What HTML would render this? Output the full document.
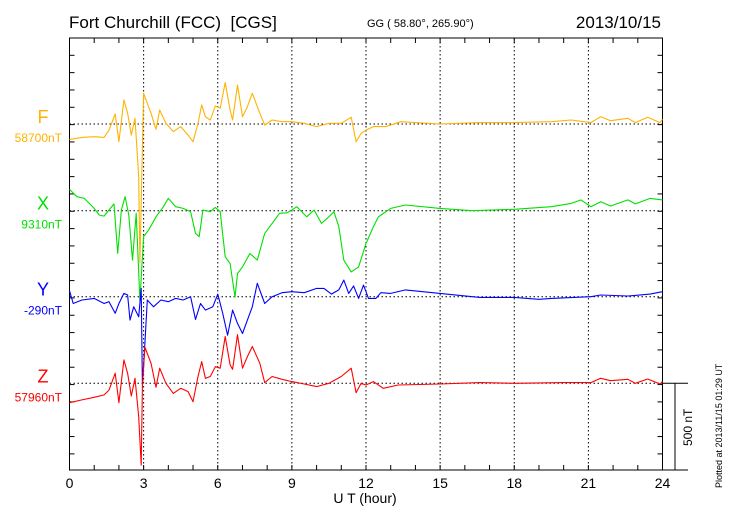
<!DOCTYPE html>
<html><head><meta charset="utf-8"><style>
html,body{margin:0;padding:0;background:#fff;}
svg{display:block;font-family:"Liberation Sans",sans-serif;}
</style></head><body>
<svg id="chart" width="730" height="520" viewBox="0 0 730 520" xmlns="http://www.w3.org/2000/svg">
<text x="69" y="28" font-size="17">Fort Churchill (FCC)&#160; [CGS]</text>
<text x="367" y="27" font-size="11">GG ( 58.80°, 265.90°)</text>
<text x="661" y="28" font-size="17" text-anchor="end">2013/10/15</text>
<text x="365" y="503" font-size="14" text-anchor="middle">U T (hour)</text>
<text transform="translate(722,488) rotate(-90)" font-size="9">Plotted at 2013/11/15 01:29 UT</text>
<text transform="translate(692,446) rotate(-90)" font-size="12">500 nT</text>
<g id="grid"></g><g id="axes"></g><g id="series"></g><g id="labels"></g>
</svg>
<script>
const hoursF=[0,0.5,1,1.4,1.6,1.85,2,2.2,2.35,2.5,2.65,2.8,2.85,3,3.3,3.5,3.65,3.9,4.2,4.5,4.8,5,5.2,5.35,5.5,5.7,5.9,6.1,6.3,6.5,6.6,6.8,7,7.2,7.4,7.7,7.9,8.2,8.6,9,9.5,10,10.5,11,11.4,11.6,11.8,12,12.3,12.8,13.4,15,16.6,18,19.5,20.3,21.1,21.5,21.9,22.6,22.9,23.4,23.9,24];
const valuesF=[-89,-77,-73,-77,-35,58,-102,139,62,-64,33,-305,-800,177,62,-31,81,4,-44,-15,-64,-102,4,110,42,23,104,91,239,81,23,225,42,100,177,62,-6,23,13,13,4,-15,4,4,39,-102,-54,-35,-15,-15,13,0,8,8,13,23,8,42,19,33,8,39,8,27];
const hoursX=[0,0.3,0.6,1,1.2,1.4,1.6,1.8,1.95,2.1,2.25,2.4,2.55,2.7,2.85,3,3.2,3.5,3.8,4,4.3,4.6,4.9,5.1,5.25,5.4,5.7,5.9,6.1,6.3,6.5,6.7,6.8,7,7.3,7.6,7.9,8.2,8.5,8.8,9,9.2,9.6,9.9,10.2,10.5,10.7,10.9,11.1,11.4,11.7,12,12.3,12.5,13,13.6,15,16.3,18,19.5,20.3,20.7,21.1,21.5,21.9,22.6,22.9,23.5,24];
const valuesX=[123,81,71,13,-25,-31,4,39,-247,4,81,-25,-285,-15,-520,-150,-112,-35,23,71,23,13,-6,-131,-150,4,-6,19,-6,-266,-305,-498,-362,-324,-247,-285,-131,-73,-15,-12,4,23,-35,4,-73,-35,-6,-92,-285,-353,-324,-189,-92,-35,13,33,13,0,8,23,42,62,23,52,27,62,39,71,62];
const hoursY=[0,0.15,0.5,1,1.4,1.6,1.85,2,2.2,2.35,2.45,2.6,2.8,2.9,2.95,3.05,3.15,3.4,3.7,4,4.3,4.6,4.9,5.1,5.3,5.5,5.8,6,6.2,6.4,6.6,6.8,7,7.2,7.4,7.6,7.9,8.2,8.6,9,9.5,10,10.3,10.6,10.9,11.1,11.3,11.5,11.7,11.9,12.1,12.4,12.6,13,13.6,15,16.6,18,19,19.5,21.1,21.5,22.6,23.5,24];
const valuesY=[35,-39,-19,-10,-39,-29,-96,-39,19,10,-135,-58,-116,48,-510,-270,-19,-58,-19,-29,-10,-19,0,-131,-39,-77,-58,15,-96,-222,-77,-154,-212,-135,-58,77,-39,0,23,29,23,48,48,15,39,96,19,62,-10,67,-10,-10,23,19,39,19,-4,-4,-15,-10,0,10,4,15,29];
const hoursZ=[0,0.5,1,1.4,1.6,1.85,2,2.2,2.35,2.5,2.65,2.8,2.9,2.95,3.05,3.3,3.5,3.65,3.9,4.2,4.5,4.8,5,5.2,5.35,5.5,5.7,5.9,6.1,6.3,6.5,6.6,6.8,7,7.2,7.4,7.7,7.9,8.2,8.6,9,9.5,10,10.5,11,11.4,11.6,11.8,12,12.3,12.7,13.3,15,16.6,18,20,21.1,21.5,21.9,22.6,22.9,23.4,23.9,24];
const valuesZ=[-112,-96,-81,-67,-39,58,-112,135,58,-73,29,-193,-472,-19,208,116,-23,87,0,-58,-29,-48,-106,39,125,29,39,96,87,270,106,81,280,87,154,212,116,4,39,23,10,-4,-19,0,39,87,-54,0,-10,10,-29,-10,-4,4,0,4,4,29,15,23,0,25,-4,10];
const baseLabels=["58700nT","9310nT","-290nT","57960nT"];
const xTickLabels=["0","3","6","9","12","15","18","21","24"];

const L=69.5,R=662.5,T=38,B=470,NS="http://www.w3.org/2000/svg";
const baselines=[124,210.7,296.7,383.3];
const pxPerNT=86.7/500;
const xs=h=>L+(R-L)*h/24;
function mk(tag,attrs,parent){const e=document.createElementNS(NS,tag);for(const k in attrs)e.setAttribute(k,attrs[k]);document.getElementById(parent).appendChild(e);return e;}
for(let h=3;h<24;h+=3){const g=mk('line',{x1:xs(h),x2:xs(h),y1:T,y2:B,stroke:'#000','stroke-width':1,'stroke-dasharray':'1.5,2.5'},'grid');

}
baselines.forEach((b,i)=>{const g=mk('line',{x1:L,x2:R,y1:b,y2:b,stroke:'#000','stroke-width':1,'stroke-dasharray':'1.5,2.5'},'grid');

});
const fr=mk('rect',{x:L,y:T,width:R-L,height:B-T,fill:'none',stroke:'#000','stroke-width':1},'axes');


for(let h=1;h<24;h++){mk('line',{x1:xs(h),x2:xs(h),y1:T,y2:T+5,stroke:'#000'},'axes');mk('line',{x1:xs(h),x2:xs(h),y1:B,y2:B-5,stroke:'#000'},'axes');}
for(let y=T+17.3;y<B-1;y+=17.33){mk('line',{x1:L,x2:L+5,y1:y,y2:y,stroke:'#000'},'axes');mk('line',{x1:R,x2:R-5,y1:y,y2:y,stroke:'#000'},'axes');}
const e1=mk('line',{x1:R,x2:688,y1:B,y2:B,stroke:'#000'},'axes');


const e2=mk('line',{x1:R,x2:688,y1:baselines[3],y2:baselines[3],stroke:'#000'},'axes');


const e3=mk('line',{x1:675,x2:675,y1:baselines[3],y2:B,stroke:'#000'},'axes');


xTickLabels.forEach((t,i)=>{const e=mk('text',{x:xs(i*3),y:488,'font-size':14,'text-anchor':'middle'},'labels');e.textContent=t;

});
const series=[['F',hoursF,valuesF,'#ffb300'],['X',hoursX,valuesX,'#00e000'],['Y',hoursY,valuesY,'#0000ff'],['Z',hoursZ,valuesZ,'#ff0000']];
series.forEach((s,i)=>{
 const d=s[1].map((h,j)=>(j?'L':'M')+xs(h).toFixed(1)+','+(baselines[i]-s[2][j]*pxPerNT).toFixed(1)).join('');
 const p=mk('path',{d:d,fill:'none',stroke:s[3],'stroke-width':1.1,'stroke-linejoin':'round'},'series');
 
 
 const t=mk('text',{x:43,y:baselines[i]-1,'font-size':18,fill:s[3],'text-anchor':'middle'},'labels');t.textContent=s[0];
 
 
 const b=mk('text',{x:62,y:baselines[i]+18,'font-size':12,fill:s[3],'text-anchor':'end'},'labels');b.textContent=baseLabels[i];
 
 
});
</script>
</body></html>
